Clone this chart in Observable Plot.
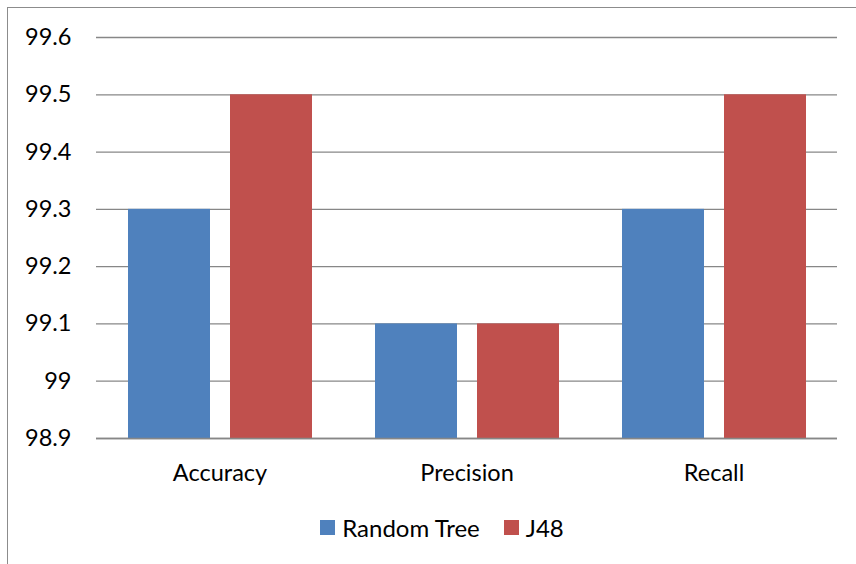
<!DOCTYPE html>
<html>
<head>
<meta charset="utf-8">
<script src="https://cdn.jsdelivr.net/npm/d3@7"></script>
<script src="https://cdn.jsdelivr.net/npm/@observablehq/plot@0.6"></script>
<style>
  html, body { margin: 0; padding: 0; width: 856px; height: 564px; overflow: hidden; background: #fff; }
  body { position: relative; font-family: Lato, "Open Sans", sans-serif; }
  #frame { position: absolute; left: 7px; top: 7px; width: 1000px; height: 1000px; border: 1.5px solid #8c8c8c; box-sizing: border-box; }
  #chart { position: absolute; left: 0; top: 0; }
  #legend { position: absolute; left: 0; top: 513px; width: 884px; display: flex; justify-content: center; align-items: center; font-size: 24px; color: #000; }
  .item { display: flex; align-items: center; margin: 0 12px; }
  .sw { width: 15px; height: 15px; margin-right: 7px; display: inline-block; }
</style>
</head>
<body>
<div id="frame"></div>
<div id="chart"></div>
<div id="legend"></div>
<script>
const categories = ["Accuracy", "Precision", "Recall"];
const series = ["Random Tree", "J48"];
const randomTree = [99.3, 99.1, 99.3];
const j48 = [99.5, 99.1, 99.5];
const yTicks = [98.9, 99, 99.1, 99.2, 99.3, 99.4, 99.5, 99.6];
const colors = ["#4F81BD", "#C0504D"];

const rows = [];
categories.forEach((c, i) => {
  rows.push({category: c, series: series[0], value: randomTree[i]});
  rows.push({category: c, series: series[1], value: j48[i]});
});

const plot = Plot.plot({
  width: 856,
  height: 500,
  marginTop: 37,
  marginBottom: 62,
  marginLeft: 96,
  marginRight: 19,
  style: {fontFamily: "Lato, 'Open Sans', sans-serif", fontSize: "23.5px", color: "#000", background: "transparent"},
  fx: {domain: categories, padding: 0, label: null, tickSize: 0, tickPadding: 26, axis: "bottom"},
  x: {domain: series, axis: null, paddingInner: 0.2, paddingOuter: 0.3},
  y: {domain: [98.9, 99.6], ticks: yTicks, tickFormat: d => String(d), tickSize: 0, tickPadding: 25, label: null},
  color: {domain: series, range: colors},
  marks: [
    Plot.ruleY(yTicks, {stroke: "#878787", strokeWidth: 1.3}),
    Plot.barY(rows, {fx: "category", x: "series", y1: 98.9, y2: "value", fill: "series"}),
    Plot.ruleY([98.9], {stroke: "#878787", strokeWidth: 1.5})
  ]
});
document.getElementById("chart").appendChild(plot);

const legend = document.getElementById("legend");
series.forEach((s, i) => {
  const item = document.createElement("div");
  item.className = "item";
  item.innerHTML = `<span class="sw" style="background:${colors[i]}"></span><span>${s}</span>`;
  legend.appendChild(item);
});
</script>
</body>
</html>
